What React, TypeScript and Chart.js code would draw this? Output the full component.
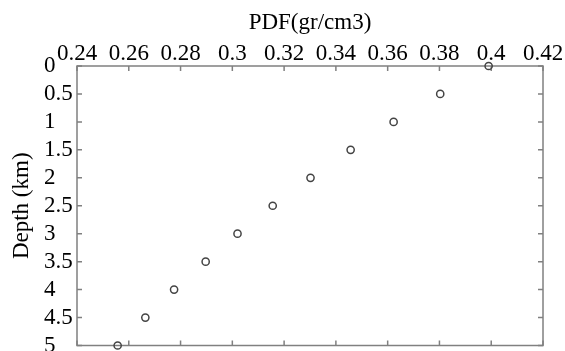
import React, { useEffect, useRef } from "react";
import { Chart, registerables } from "chart.js";
Chart.register(...registerables);

const depthKm = [0, 0.5, 1, 1.5, 2, 2.5, 3, 3.5, 4, 4.5, 5];
const pdfValues = [0.399, 0.3803, 0.3623, 0.3457, 0.3302, 0.3156, 0.302, 0.2897, 0.2775, 0.2664, 0.2557];
const xTitle = "PDF(gr/cm3)";
const yTitle = "Depth (km)";
const xMin = 0.24;
const xMax = 0.42;
const xStep = 0.02;
const yMin = 0;
const yMax = 5;
const yStep = 0.5;

const FONT = '"Liberation Serif", "Times New Roman", serif';
const FRAME = "#808080";
const FS = 23;

const framePlugin = {
  id: "frameTicks",
  beforeDatasetsDraw(chart: any) {
    const { ctx, chartArea, scales } = chart;
    const { left, right, top, bottom } = chartArea;
    ctx.save();
    ctx.strokeStyle = FRAME;
    ctx.lineWidth = 1.5;
    ctx.strokeRect(left, top, right - left, bottom - top);
    const len = 5;
    ctx.beginPath();
    scales.x.ticks.forEach((t: any) => {
      const px = scales.x.getPixelForValue(t.value);
      ctx.moveTo(px, top);
      ctx.lineTo(px, top + len);
      ctx.moveTo(px, bottom);
      ctx.lineTo(px, bottom - len);
    });
    scales.y.ticks.forEach((t: any) => {
      const py = scales.y.getPixelForValue(t.value);
      ctx.moveTo(left, py);
      ctx.lineTo(left + len, py);
      ctx.moveTo(right, py);
      ctx.lineTo(right - len, py);
    });
    ctx.stroke();
    ctx.restore();
  },
};

export default function App() {
  const ref = useRef<HTMLCanvasElement | null>(null);
  useEffect(() => {
    if (!ref.current) return;
    const chart = new Chart(ref.current, {
      type: "scatter",
      data: {
        datasets: [
          {
            data: depthKm.map((d, i) => ({ x: pdfValues[i], y: d })),
            pointStyle: "circle",
            pointRadius: 3.6,
            borderColor: "#444444",
            borderWidth: 1.5,
            backgroundColor: "rgba(255,255,255,0)",
            showLine: false,
            clip: false as any,
          },
        ],
      },
      options: {
        animation: false,
        responsive: false,
        layout: { padding: { left: 0, top: 0, right: 22, bottom: 2 } },
        plugins: {
          legend: { display: false },
          tooltip: { enabled: false },
          title: {
            display: true,
            text: yTitle,
            position: "left",
            fullSize: false,
            color: "#000",
            font: { family: FONT, size: FS, weight: "normal" as any },
            padding: { top: 8, bottom: 8.4 } as any,
          },
        },
        scales: {
          x: {
            type: "linear",
            position: "top",
            min: xMin,
            max: xMax,
            ticks: {
              stepSize: xStep,
              padding: -10,
              autoSkip: false,
              maxRotation: 0,
              color: "#000",
              font: { family: FONT, size: FS },
              callback: (v: any) => String(Number(Number(v).toFixed(2))),
            },
            grid: { display: false },
            border: { display: false },
            title: {
              display: true,
              text: xTitle,
              color: "#000",
              font: { family: FONT, size: FS },
              padding: { top: 9, bottom: 0 },
            },
            afterFit: (s: any) => {
              s.height = 66;
              s.paddingLeft = 0;
              s.paddingRight = 0;
            },
          },
          y: {
            type: "linear",
            reverse: true,
            min: yMin,
            max: yMax,
            ticks: {
              stepSize: yStep,
              padding: 0,
              autoSkip: false,
              crossAlign: "far",
              color: "#000",
              font: { family: FONT, size: FS },
              callback: (v: any) => String(Number(Number(v).toFixed(1))),
            },
            grid: { display: false },
            border: { display: false },
            afterFit: (s: any) => {
              s.width = 33;
              s.paddingTop = 0;
              s.paddingBottom = 0;
            },
          },
        },
      },
      plugins: [framePlugin],
    });
    return () => chart.destroy();
  }, []);
  return (
    <div style={{ position: "absolute", left: 0, top: 0, width: 565, height: 351, background: "#fff" }}>
      <canvas ref={ref} width={565} height={351} style={{ display: "block" }} />
    </div>
  );
}
